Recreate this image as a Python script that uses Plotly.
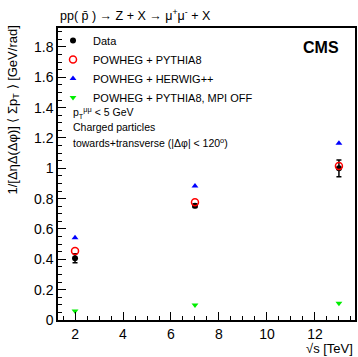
import plotly.graph_objects as go

energies = [2, 7, 13]
data_vals = [0.407, 0.753, 1.00]
data_errs = [0.03, 0.012, 0.055]
pythia8 = [0.455, 0.776, 1.015]
herwig = [0.543, 0.883, 1.165]
mpi_off = [0.059, 0.099, 0.11]

FONT = "Liberation Sans, Arial, sans-serif"

fig = go.Figure()
fig.add_trace(go.Scatter(
    x=energies, y=data_vals, mode="markers", name="Data",
    marker=dict(symbol="circle", size=6, color="black"),
    error_y=dict(type="data", array=data_errs, color="black", thickness=1.5, width=2.5),
))
fig.add_trace(go.Scatter(
    x=energies, y=pythia8, mode="markers", name="POWHEG + PYTHIA8",
    marker=dict(symbol="circle-open", size=7, color="red", line=dict(width=1.5, color="red")),
))
fig.add_trace(go.Scatter(
    x=energies, y=herwig, mode="markers", name="POWHEG + HERWIG++",
    marker=dict(symbol="triangle-up", size=6, color="blue"),
))
fig.add_trace(go.Scatter(
    x=energies, y=mpi_off, mode="markers", name="POWHEG + PYTHIA8, MPI OFF",
    marker=dict(symbol="triangle-down", size=6, color="#00ee00"),
))

W, H = 358, 357
L, R, T, B = 58, 2.5, 28, 37
pw = W - L - R
ph = H - T - B

def px(xp):
    return (xp - L) / pw

def py(yp):
    return (H - B - yp) / ph

fig.update_layout(
    width=W, height=H,
    margin=dict(l=L, r=R, t=T, b=B, pad=0),
    paper_bgcolor="white", plot_bgcolor="white",
    font=dict(family=FONT, color="black"),
    showlegend=True,
    legend=dict(
        x=px(53), y=py(26), xanchor="left", yanchor="top",
        bgcolor="rgba(0,0,0,0)", borderwidth=0,
        font=dict(size=11, family=FONT),
        tracegroupgap=0, itemsizing="trace",
    ),
    xaxis=dict(
        range=[1.29, 13.67], dtick=2, tick0=0,
        showgrid=False, zeroline=False,
        showline=True, linecolor="black", linewidth=1.5, mirror=True,
        ticks="inside", ticklen=8, tickwidth=1, tickcolor="black",
        tickfont=dict(size=14, family=FONT),
        minor=dict(dtick=0.5, ticks="inside", ticklen=4, tickcolor="black", showgrid=False),
    ),
    yaxis=dict(
        range=[0, 1.925], dtick=0.2, tick0=0,
        showgrid=False, zeroline=False,
        showline=True, linecolor="black", linewidth=1.5, mirror=True,
        ticks="inside", ticklen=8, tickwidth=1, tickcolor="black",
        tickfont=dict(size=14, family=FONT),
        minor=dict(dtick=0.05, ticks="inside", ticklen=4, tickcolor="black", showgrid=False),
    ),
)

ann = [
    dict(text="pp( p\u0304 ) \u2192 Z + X \u2192 \u03bc<sup>+</sup>\u03bc<sup>-</sup> + X",
         x=px(58), y=py(15), xanchor="left", yanchor="middle", font=dict(size=12.5)),
    dict(text="<b>CMS</b>", x=px(341), y=py(47), xanchor="right", yanchor="middle",
         font=dict(size=16)),
    dict(text="p<sub>T</sub><sup>\u03bc\u03bc</sup> < 5 GeV", x=px(71), y=py(113),
         xanchor="left", yanchor="middle", font=dict(size=10.5)),
    dict(text="Charged particles", x=px(71), y=py(127), xanchor="left", yanchor="middle",
         font=dict(size=10.5)),
    dict(text="towards+transverse (|\u0394\u03c6| < 120<sup>o</sup>)", x=px(71), y=py(142),
         xanchor="left", yanchor="middle", font=dict(size=10.5)),
    dict(text="\u221as [TeV]", x=px(356), y=py(348), xanchor="right", yanchor="middle",
         font=dict(size=13)),
    dict(text="1/[\u0394\u03b7\u0394(\u0394\u03c6)] \u27e8 \u03a3p<sub>T</sub> \u27e9 [GeV/rad]",
         x=px(13), y=py(24), xanchor="center", yanchor="top", textangle=-90,
         font=dict(size=13)),
]
for a in ann:
    a.update(xref="paper", yref="paper", showarrow=False)
    fig.add_annotation(**a)

fig.write_html("out.html",
               config={"displayModeBar": False},
               post_script="document.body.style.margin='0px';document.body.style.padding='0px';")
